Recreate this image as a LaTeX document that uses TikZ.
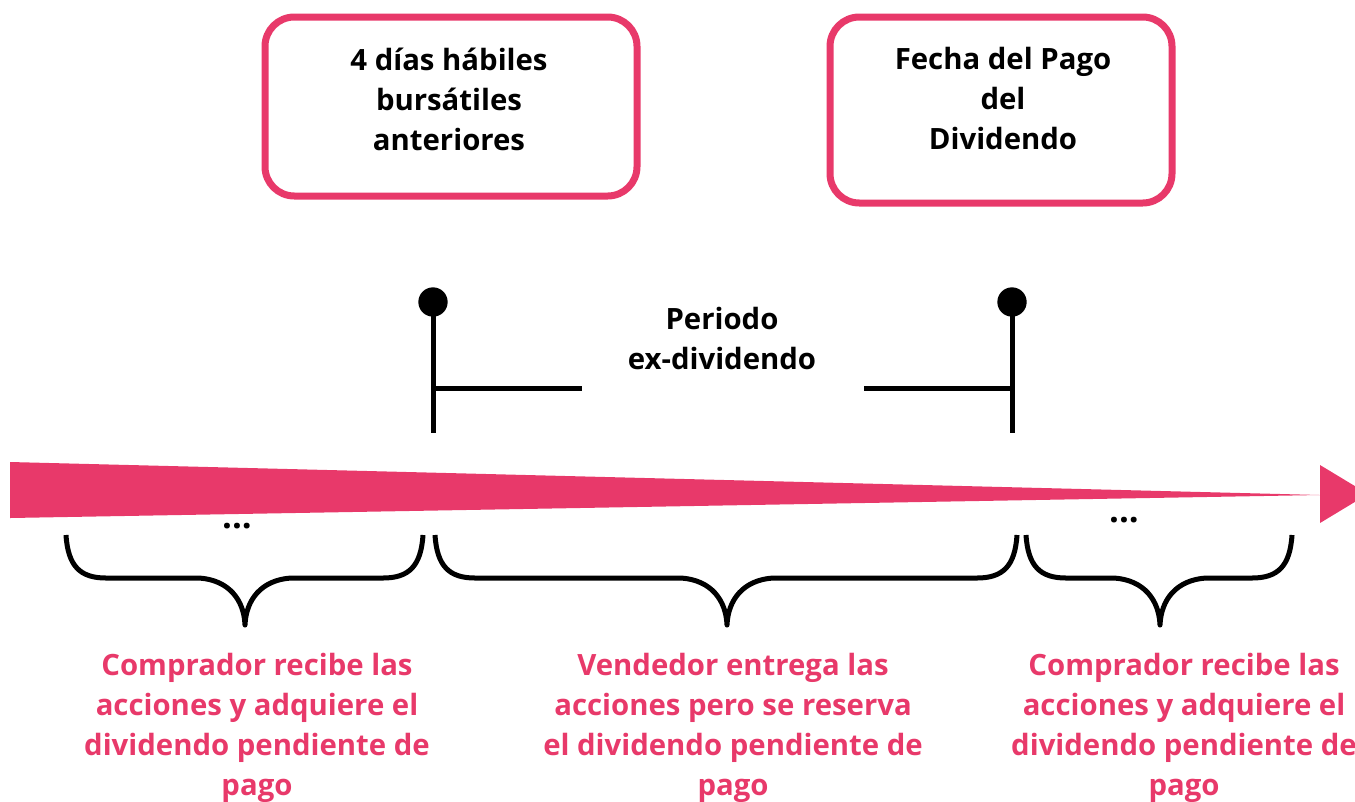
\documentclass[tikz,border=0pt]{standalone}
\usepackage{fontspec}
\setmainfont{Open Sans}
\definecolor{brandpink}{HTML}{E8396A}
\tikzset{
  pinkbox/.style={draw=brandpink, line width=5.25pt, rounded corners=22pt, fill=white, inner sep=0pt},
  boxtext/.style={font=\bfseries\fontsize{22}{30}\selectfont, align=center, text=black, inner sep=0pt},
  pinktext/.style={font=\bfseries\fontsize{22}{30}\selectfont, align=center, text=brandpink, inner sep=0pt},
  dotstext/.style={font=\bfseries\fontsize{26}{30}\selectfont, text=black, inner sep=0pt},
  pinline/.style={line width=3.75pt, draw=black},
  bracestyle/.style={line width=3.75pt, draw=black, line join=round},
  pinhead/.style={circle, fill=black, minimum size=22pt, inner sep=0pt}
}
\newcommand\mybrace[3]{%
  \draw[bracestyle] (#1,535) .. controls (#1+2,566) and (#1+14,578) .. (#1+40,578)
    -- (#2-46,578) .. controls (#2-16,580) and (#2-1,600) .. (#2,625)
    .. controls (#2+1,600) and (#2+16,580) .. (#2+46,578)
    -- (#3-40,578) .. controls (#3-14,578) and (#3-2,566) .. (#3,535);}
\begin{document}
\begin{tikzpicture}[x=0.75pt,y=-0.75pt]
\useasboundingbox (0,0) rectangle (1355,801);
% top boxes
\node[pinkbox, minimum width=372*0.75pt, minimum height=179*0.75pt] (box1) at (451,106.5) {};
\node[pinkbox, minimum width=342*0.75pt, minimum height=186*0.75pt] (box2) at (1001,110) {};
\node[boxtext, anchor=base] (t1) at (449,150) {4 días hábiles\\bursátiles\\anteriores};
\node[boxtext, anchor=base] (t2) at (1003,149) {Fecha del Pago\\del\\Dividendo};
% pins
\node[pinhead] (p1) at (433,302) {};
\node[pinhead] (p2) at (1012,302) {};
\coordinate (p1b) at (433,433);
\coordinate (p2b) at (1012,433);
\coordinate (p1h) at (433,388);
\coordinate (p2h) at (1012,388);
\coordinate (h1e) at (582,388);
\coordinate (h2e) at (864,388);
\draw[pinline] (p1.center) -- (p1b);
\draw[pinline] (p2.center) -- (p2b);
\draw[pinline] (p1h) -- (h1e);
\draw[pinline] (p2h) -- (h2e);
\node[boxtext, anchor=base] (period) at (722,369) {Periodo\\ex-dividendo};
% timeline
\fill[brandpink] (10,462) -- (1320,495) -- (10,518) -- cycle;
\fill[brandpink] (1320,465) -- (1368,494) -- (1320,523) -- cycle;
\node[dotstext, anchor=base] (d1) at (237,528) {...};
\node[dotstext, anchor=base] (d2) at (1124,522) {...};
% braces
\mybrace{66}{245}{423}
\mybrace{435}{727}{1017}
\mybrace{1026}{1160}{1292}
% labels
\node[pinktext, anchor=base] (l1) at (257,795) {Comprador recibe las\\acciones y adquiere el\\dividendo pendiente de\\pago};
\node[pinktext, anchor=base] (l2) at (733,795) {Vendedor entrega las\\acciones pero se reserva\\el dividendo pendiente de\\pago};
\node[pinktext, anchor=base] (l3) at (1184,795) {Comprador recibe las\\acciones y adquiere el\\dividendo pendiente de\\pago};
\end{tikzpicture}
\end{document}
